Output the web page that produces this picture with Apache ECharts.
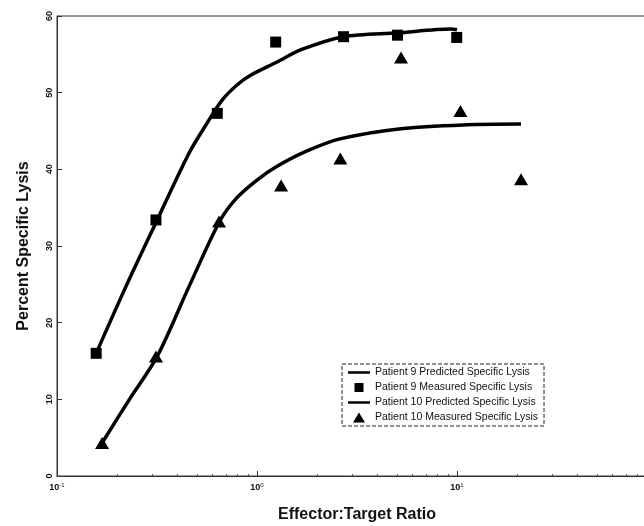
<!DOCTYPE html>
<html>
<head>
<meta charset="utf-8">
<script src="https://cdn.jsdelivr.net/npm/echarts@6/dist/echarts.min.js"></script>
<style>html,body{margin:0;padding:0;background:#fff;}#c{width:644px;height:526px;}</style>
</head>
<body>
<div id="c"></div>
<script>
// Measured points [E:T ratio, % specific lysis]
var p9MeasuredX = [0.157, 0.3125, 0.633, 1.24, 2.71, 5.04, 9.97];
var p9MeasuredY = [16.0, 33.4, 47.3, 56.6, 57.3, 57.5, 57.2];
var p10MeasuredX = [0.168, 0.3125, 0.646, 1.32, 2.61, 5.25, 10.4, 20.9];
var p10MeasuredY = [4.3, 15.6, 33.2, 37.9, 41.4, 54.6, 47.6, 38.7];
// Predicted curves
var p9CurveX = [0.157, 0.221, 0.317, 0.457, 0.562, 0.668, 0.794, 0.933, 1.26, 1.66, 2.71, 5.05, 9.33, 10.0];
var p9CurveY = [16.0, 24.7, 33.4, 42.1, 46.0, 49.0, 51.0, 52.3, 54.0, 55.6, 57.3, 57.8, 58.3, 58.2];
var p10CurveX = [0.168, 0.229, 0.317, 0.457, 0.65, 0.794, 1.0, 1.26, 1.78, 2.63, 5.25, 11.2, 20.9];
var p10CurveY = [4.3, 9.9, 15.6, 24.7, 33.2, 36.3, 38.6, 40.4, 42.4, 44.0, 45.3, 45.8, 45.9];
var yTicks = [0, 10, 20, 30, 40, 50, 60];
var seriesNames = ['Patient 9 Predicted Specific Lysis', 'Patient 9 Measured Specific Lysis',
                   'Patient 10 Predicted Specific Lysis', 'Patient 10 Measured Specific Lysis'];

function zip(a, b) { return a.map(function (v, i) { return [v, b[i]]; }); }
var expMap = {0.1: '-1', 1: '0', 10: '1', 100: '2'};
var boundsA = 'M0,0 L0.05,0 L0.05,0.05 L0,0.05 Z ';
var boundsB = ' M21.95,10.95 L22,10.95 L22,11 L21.95,11 Z';
var lineIcon = 'path://' + boundsA + 'M0,4.3 L22,4.3 L22,6.7 L0,6.7 Z' + boundsB;
var squareIcon = 'path://' + boundsA + 'M6.5,1 L15.5,1 L15.5,10 L6.5,10 Z' + boundsB;
var triIcon = 'path://' + boundsA + 'M11,0.5 L17,10.5 L5,10.5 Z' + boundsB;

var chart = echarts.init(document.getElementById('c'), null, {renderer: 'canvas'});
chart.setOption({
  animation: false,
  backgroundColor: '#fff',
  textStyle: {fontFamily: 'Liberation Sans, Arial, sans-serif', color: '#111'},
  grid: {left: 57, top: 16, width: 600, height: 460, show: true, borderColor: '#333', borderWidth: 1,
         outerBoundsMode: 'none', containLabel: false},
  legend: {
    orient: 'vertical', left: 342, top: 364, itemGap: 4, itemWidth: 22, itemHeight: 11,
    padding: [3, 6, 3, 6], borderColor: '#222', borderWidth: 1, borderType: 'dashed',
    backgroundColor: '#fff',
    textStyle: {fontSize: 10.5, color: '#111'},
    data: [
      {name: seriesNames[0], icon: lineIcon, itemStyle: {color: '#000'}},
      {name: seriesNames[1], icon: squareIcon, itemStyle: {color: '#000'}},
      {name: seriesNames[2], icon: lineIcon, itemStyle: {color: '#000'}},
      {name: seriesNames[3], icon: triIcon, itemStyle: {color: '#000'}}
    ]
  },
  xAxis: {
    type: 'log', logBase: 10, min: 0.1, max: 100,
    name: 'Effector:Target Ratio', nameLocation: 'middle', nameGap: 31,
    nameTextStyle: {fontSize: 16, fontWeight: 'bold', color: '#111'},
    axisLine: {show: true, lineStyle: {color: '#333', width: 1}},
    axisTick: {show: true, inside: true, length: 5, lineStyle: {color: '#333'}},
    minorTick: {show: true, splitNumber: 9, length: 2, lineStyle: {color: '#555'}},
    splitLine: {show: false},
    axisLabel: {
      margin: 6,
      formatter: function (v) { return '{b|10}{s|' + (expMap[v] || '') + '}'; },
      rich: {b: {fontSize: 9, color: '#111', fontWeight: 'bold'}, s: {fontSize: 6, color: '#111', verticalAlign: 'top', padding: [0, 0, 5, 0]}}
    }
  },
  yAxis: {
    type: 'value', min: 0, max: 60, interval: 10,
    name: 'Percent Specific Lysis', nameLocation: 'middle', nameGap: 25,
    nameTextStyle: {fontSize: 16, fontWeight: 'bold', color: '#111'},
    axisLine: {show: true, lineStyle: {color: '#333', width: 1}},
    axisTick: {show: true, inside: true, length: 5, lineStyle: {color: '#333'}},
    splitLine: {show: false},
    axisLabel: {rotate: 90, margin: 3, fontSize: 9, fontWeight: 'bold', color: '#111',
      formatter: function (v) { return yTicks.indexOf(v) >= 0 ? String(v) : ''; }}
  },
  series: [
    {name: seriesNames[0], type: 'line', smooth: 0.3, showSymbol: false, symbol: 'none',
     data: zip(p9CurveX, p9CurveY), lineStyle: {color: '#000', width: 3.5}, itemStyle: {color: '#000'}, z: 2},
    {name: seriesNames[1], type: 'scatter', symbol: 'rect', symbolSize: 11,
     data: zip(p9MeasuredX, p9MeasuredY), itemStyle: {color: '#000', opacity: 1}, z: 3},
    {name: seriesNames[2], type: 'line', smooth: 0.3, showSymbol: false, symbol: 'none',
     data: zip(p10CurveX, p10CurveY), lineStyle: {color: '#000', width: 3.5}, itemStyle: {color: '#000'}, z: 2},
    {name: seriesNames[3], type: 'scatter', symbol: 'triangle', symbolSize: [14, 12],
     data: zip(p10MeasuredX, p10MeasuredY), itemStyle: {color: '#000', opacity: 1}, z: 3}
  ]
});
</script>
</body>
</html>
